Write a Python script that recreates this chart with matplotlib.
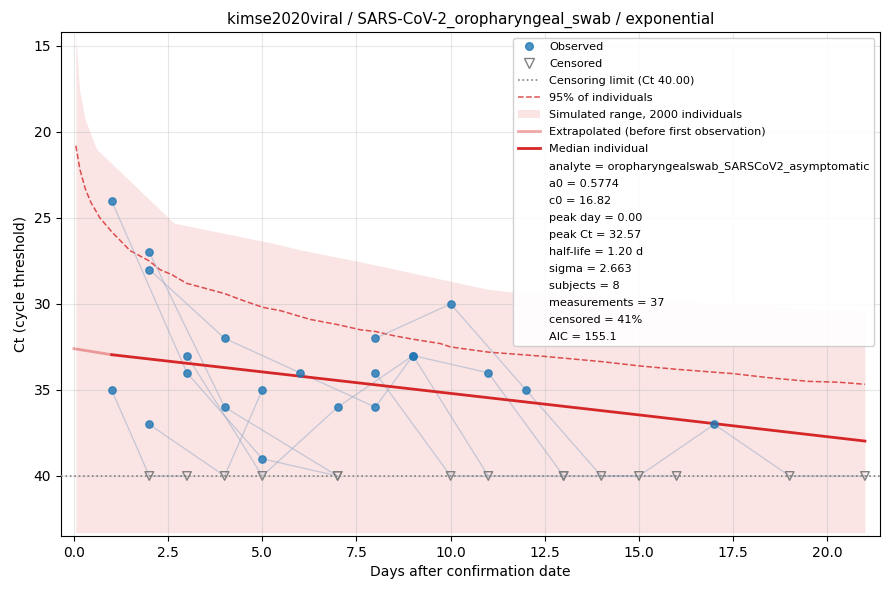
import numpy as np
import matplotlib
matplotlib.use("Agg")
import matplotlib.pyplot as plt
from matplotlib.lines import Line2D
from matplotlib.patches import Patch
from matplotlib.ticker import MultipleLocator

# measurements, one row per sample (subject, day, Ct, censored flag)
subject = [1, 1, 1,
           2, 2, 2, 2,
           3, 3, 3,
           4, 4, 4, 4, 4, 4, 4, 4, 4, 4, 4,
           5, 5, 5,
           6, 6, 6, 6, 6,
           7, 7, 7, 7, 7,
           8, 8, 8]
day = [1, 2, 3,
       1, 3, 5, 7,
       2, 4, 7,
       2, 4, 6, 8, 9, 11, 13, 15, 17, 19, 21,
       2, 4, 5,
       3, 5, 7, 9, 11,
       8, 10, 12, 14, 16,
       8, 10, 13]
ct = [35, 40, 40,
      24, 34, 39, 40,
      27, 36, 40,
      28, 32, 34, 36, 33, 34, 40, 40, 37, 40, 40,
      37, 40, 35,
      33, 40, 36, 33, 40,
      32, 30, 35, 40, 40,
      34, 40, 40]
censored = [0, 1, 1,
            0, 0, 0, 1,
            0, 0, 1,
            0, 0, 0, 0, 0, 0, 1, 1, 0, 1, 1,
            0, 1, 0,
            0, 1, 0, 0, 1,
            0, 0, 0, 1, 1,
            0, 1, 1]

limit_ct = 40.0

# simulated range (2000 individuals)
sim_days = [0.05, 0.15, 0.3, 0.6, 1.7, 2.65, 5.34, 6.0, 7.6, 11.0, 11.6, 21.0]
sim_upper = [14.4, 17.6, 19.3, 21.0, 23.3, 25.3, 26.5, 26.85, 27.55, 29.15, 29.3, 30.45]
sim_lower = [43.3, 43.3, 43.3, 43.3, 43.3, 43.3, 43.3, 43.3, 43.3, 43.3, 43.3, 43.3]

# 95% of individuals
q95_days = [0.05, 0.16, 0.3, 0.45, 0.69, 1.0, 1.49, 2.0, 2.28, 2.6, 2.99, 3.5, 4.0,
            4.49, 5.02, 5.5, 6.27, 7.0, 7.6, 8.0, 8.5, 9.0, 9.72, 10.0, 11.0, 12.5,
            14.0, 15.0, 16.0, 17.5, 18.5, 19.5, 20.3, 21.0]
q95_ct = [20.8, 22.2, 23.3, 24.1, 25.0, 25.8, 26.9, 27.5, 28.0, 28.3, 28.8, 29.1, 29.4,
          29.8, 30.2, 30.4, 30.9, 31.2, 31.5, 31.6, 31.85, 32.05, 32.3, 32.5, 32.8, 33.05,
          33.35, 33.6, 33.8, 34.05, 34.3, 34.5, 34.55, 34.67]

# median individual
extrap_days = [0.0, 1.0]
extrap_ct = [32.6, 32.95]
median_days = [1, 5, 10, 15, 21]
median_ct = [32.95, 33.95, 35.2, 36.45, 37.97]

params = [
    "analyte = oropharyngealswab_SARSCoV2_asymptomatic",
    "a0 = 0.5774",
    "c0 = 16.82",
    "peak day = 0.00",
    "peak Ct = 32.57",
    "half-life = 1.20 d",
    "sigma = 2.663",
    "subjects = 8",
    "measurements = 37",
    "censored = 41%",
    "AIC = 155.1",
]

red = "#d62728"

subject = np.array(subject)
day = np.array(day)
ct = np.array(ct)
censored = np.array(censored, dtype=bool)

fig, ax = plt.subplots(figsize=(8.9, 5.9), dpi=100)
fig.subplots_adjust(left=0.0685, right=0.9888, top=0.9458, bottom=0.0915)

ax.fill_between(sim_days, sim_upper, sim_lower, color=red, alpha=0.12, linewidth=0)
ax.plot(q95_days, q95_ct, color=red, alpha=0.8, lw=1.1, ls="--")

for s in np.unique(subject):
    m = subject == s
    ax.plot(day[m], ct[m], color="#8fa8c8", alpha=0.5, lw=0.9, zorder=2)

ax.axhline(limit_ct, color="grey", ls=":", lw=1.2, zorder=3)
ax.plot(extrap_days, extrap_ct, color=red, alpha=0.4, lw=2, zorder=4)
ax.plot(median_days, median_ct, color=red, lw=2, zorder=4)

ax.scatter(day[~censored], ct[~censored], s=28, color="#1f77b4", alpha=0.8, zorder=5)
ax.scatter(day[censored], ct[censored], s=38, marker="v", facecolors="none",
           edgecolors="grey", linewidths=1, zorder=5)

ax.set_xlim(-0.345, 21.4)
ax.set_ylim(43.49, 14.19)
ax.xaxis.set_major_locator(MultipleLocator(2.5))
ax.grid(True, alpha=0.3)
ax.set_xlabel("Days after confirmation date")
ax.set_ylabel("Ct (cycle threshold)")
ax.set_title("kimse2020viral / SARS-CoV-2_oropharyngeal_swab / exponential", fontsize=10.8)

handles = [
    Line2D([], [], marker="o", ls="none", color="#1f77b4", alpha=0.8, markersize=5.5),
    Line2D([], [], marker="v", ls="none", markerfacecolor="none", markeredgecolor="grey", markersize=6.5),
    Line2D([], [], color="grey", ls=":", lw=1.2),
    Line2D([], [], color=red, alpha=0.8, ls="--", lw=1.1),
    Patch(facecolor=red, alpha=0.12),
    Line2D([], [], color=red, alpha=0.4, lw=2),
    Line2D([], [], color=red, lw=2),
]
labels = ["Observed", "Censored", "Censoring limit (Ct 40.00)", "95% of individuals",
          "Simulated range, 2000 individuals", "Extrapolated (before first observation)",
          "Median individual"]
for p in params:
    handles.append(Line2D([], [], color="none"))
    labels.append(p)

ax.legend(handles, labels, loc="upper right", fontsize=8.1, framealpha=0.9,
          labelspacing=0.62)

plt.savefig("out.png")
